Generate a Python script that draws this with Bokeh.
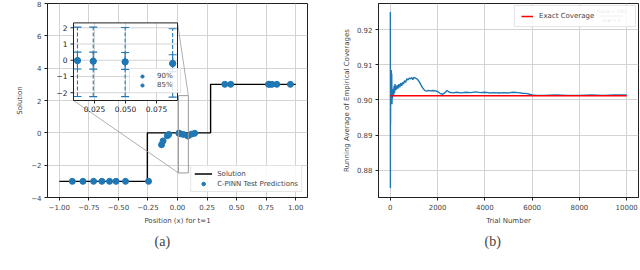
from bokeh.plotting import figure
from bokeh.models import Range1d, FixedTicker, Legend, LegendItem, Title, Label, BoxAnnotation
from bokeh.layouts import row
from bokeh.embed import file_html
from bokeh.resources import INLINE
from bokeh.core.properties import value

# ---------------- panel (a) data ----------------
sol_x = [-1.0, -0.255, 0.28, 1.0]
sol_y = [-3.0, 0.0, 3.0, 3.0]

pred_x = [-0.89, -0.80, -0.71, -0.64, -0.575, -0.52, -0.44, -0.245,
          -0.135, -0.122, -0.086, -0.074,
          0.0113, 0.024, 0.0497, 0.088, 0.118, 0.145,
          0.40, 0.45, 0.77, 0.78, 0.80, 0.84, 0.955]
pred_y = [-3.0, -3.0, -3.0, -3.0, -3.0, -3.0, -3.0, -3.0,
          -0.74, -0.5, -0.18, -0.1,
          -0.02, -0.06, -0.1, -0.2, -0.08, -0.03,
          3.0, 3.0, 3.0, 3.0, 3.0, 3.0, 3.0]

x_ticks = [-1.0, -0.75, -0.5, -0.25, 0.0, 0.25, 0.5, 0.75, 1.0]
x_tick_labels = ["\u22121.00", "\u22120.75", "\u22120.50", "\u22120.25", "0.00", "0.25", "0.50", "0.75", "1.00"]
y_ticks = [-4, -2, 0, 2, 4, 6, 8]
y_tick_labels = ["\u22124", "\u22122", "0", "2", "4", "6", "8"]

# inset (zoom) data
inset_x = [0.0113, 0.024, 0.0497, 0.088]
inset_y = [-0.02, -0.06, -0.1, -0.2]
hi90 = [2.04, 2.04, 2.02, 1.94]
lo90 = [-2.23, -2.24, -2.24, -2.27]
hi85 = [0.5, 0.5, 0.48, 0.34]
lo85 = [-0.54, -0.55, -0.56, -0.7]
inset_xlim = [0.0081, 0.0919]
inset_ylim = [-2.48, 2.30]
inset_xticks = [0.025, 0.05, 0.075]
inset_xtick_labels = ["0.025", "0.050", "0.075"]
inset_yticks = [-2, -1, 0, 1, 2]
inset_ytick_labels = ["\u22122", "\u22121", "0", "1", "2"]

# ---------------- panel (b) data ----------------
trials = [1, 3, 6, 10, 15, 20, 30, 40, 50, 60, 70, 80, 90, 100, 115, 130, 145, 160, 180, 200,
          225, 250, 275, 300, 330, 360, 400, 440, 480, 520, 560, 600, 650, 700, 750, 800, 850,
          900, 950, 1000, 1060, 1120, 1180, 1240, 1300, 1360, 1420, 1480, 1540, 1600, 1700,
          1800, 1900, 2000, 2100, 2200, 2300, 2400, 2500, 2650, 2800, 3000, 3200, 3400, 3600,
          3800, 4000, 4200, 4400, 4600, 4800, 5000, 5200, 5400, 5600, 5800, 6000, 6200, 6500,
          7000, 7500, 8000, 8500, 9000, 9500, 10000]
running_avg = [0.925, 0.875, 0.906, 0.893, 0.904, 0.899, 0.9035, 0.9085, 0.9005, 0.9075,
               0.8988, 0.9030, 0.9005, 0.9025, 0.9010, 0.9032, 0.9015, 0.9040, 0.9020, 0.9045,
               0.9028, 0.9040, 0.9030, 0.9042, 0.9033, 0.9045, 0.9036, 0.9048, 0.9040, 0.9050,
               0.9045, 0.9055, 0.9050, 0.9060, 0.9057, 0.9062, 0.9060, 0.9064, 0.9058, 0.9064,
               0.9062, 0.9060, 0.9056, 0.9050, 0.9042, 0.9035, 0.9030, 0.9026, 0.9025, 0.9027,
               0.9026, 0.9027, 0.9026, 0.9024, 0.9019, 0.9016, 0.9020, 0.9027, 0.9022, 0.9020,
               0.9022, 0.9020, 0.9022, 0.9021, 0.9023, 0.9021, 0.9022, 0.9020, 0.9021, 0.9020,
               0.9021, 0.9020, 0.9022, 0.9021, 0.9019, 0.9018, 0.9014, 0.9013, 0.9013, 0.9014,
               0.9013, 0.9013, 0.9014, 0.9013, 0.9014, 0.9014]
exact_x = [0, 10000]
exact_y = [0.9012, 0.9012]
b_x_ticks = [0, 2000, 4000, 6000, 8000, 10000]
b_x_tick_labels = ["0", "2000", "4000", "6000", "8000", "10000"]
b_y_ticks = [0.88, 0.89, 0.90, 0.91, 0.92]
b_y_tick_labels = ["0.88", "0.89", "0.90", "0.91", "0.92"]

BLUE = "#1f77b4"
DARK = "#222222"
GRID = "#d3d3d3"
FONT = "DejaVu Sans"


def style(p, fs):
    for ax in [p.xaxis[0], p.yaxis[0]]:
        ax.major_label_text_font = FONT
        ax.major_label_text_font_size = fs
        ax.axis_label_text_font = FONT
        ax.axis_label_text_font_size = fs
        ax.axis_label_text_font_style = "normal"
        ax.major_tick_out = 3
        ax.major_tick_in = 0
        ax.minor_tick_out = 0
        ax.minor_tick_in = 0
        ax.axis_line_color = DARK
        ax.major_tick_line_color = DARK
        ax.major_label_standoff = 3
        ax.axis_label_standoff = 4
    p.grid.grid_line_color = GRID
    p.grid.grid_line_width = 1
    p.outline_line_color = DARK
    p.outline_line_alpha = 1
    p.background_fill_color = "white"
    p.border_fill_color = "white"


# ================= panel (a) =================
pA = figure(width=320, height=270, x_range=Range1d(-1.1, 1.1), y_range=Range1d(-4, 8),
            output_backend="svg", toolbar_location=None,
            min_border_left=47, min_border_right=13, min_border_top=3, min_border_bottom=73)
pA.xaxis[0].ticker = FixedTicker(ticks=x_ticks)
pA.xaxis[0].major_label_overrides = {t: l for t, l in zip(x_ticks, x_tick_labels)}
pA.yaxis[0].ticker = FixedTicker(ticks=y_ticks)
pA.yaxis[0].major_label_overrides = {t: l for t, l in zip(y_ticks, y_tick_labels)}
pA.xaxis[0].axis_label = "Position (x) for t=1"
pA.yaxis[0].axis_label = "Solution"
style(pA, "7px")

r_sol = pA.step(sol_x, sol_y, mode="after", line_color="black", line_width=1.4)
r_pred = pA.scatter(pred_x, pred_y, size=6, color=BLUE, line_color=BLUE)

# inset placement (axes fraction: left, bottom, width, height)
ins_l, ins_b, ins_w, ins_h = 0.1, 0.5, 0.4, 0.4
ix0, ix1 = inset_xlim
iy0, iy1 = inset_ylim
dxr = (ix1 - ix0) / ins_w
dyr = (iy1 - iy0) / ins_h
ixs = ix0 - ins_l * dxr
iys = iy0 - ins_b * dyr
pA.extra_x_ranges = {"ix": Range1d(ixs, ixs + dxr)}
pA.extra_y_ranges = {"iy": Range1d(iys, iys + dyr)}
IR = dict(x_range_name="ix", y_range_name="iy")

# zoom indicator rectangle and connectors (main coordinates)
mx0, mx1 = -1.1, 1.1
my0, my1 = -4.0, 8.0
box_l = mx0 + ins_l * (mx1 - mx0)
box_r = mx0 + (ins_l + ins_w) * (mx1 - mx0)
box_b = my0 + ins_b * (my1 - my0)
box_t = my0 + (ins_b + ins_h) * (my1 - my0)
pA.quad(left=[ix0], right=[ix1], bottom=[iy0], top=[iy1], fill_color=None,
        line_color="#9a9a9a", line_width=1)
pA.segment(x0=[box_r, box_l], y0=[box_t, box_b], x1=[ix1, ix0], y1=[iy1, iy0],
           line_color="#9a9a9a", line_width=0.8)

# inset background
pA.quad(left=[ix0], right=[ix1], bottom=[iy0], top=[iy1], fill_color="white",
        line_color=None, **IR)
# inset grid
pA.segment(x0=inset_xticks, y0=[iy0] * 3, x1=inset_xticks, y1=[iy1] * 3,
           line_color=GRID, line_width=1, **IR)
pA.segment(x0=[ix0] * 5, y0=inset_yticks, x1=[ix1] * 5, y1=inset_yticks,
           line_color=GRID, line_width=1, **IR)
# inset ticks (3px outward)
frame_w, frame_h = 260.0, 193.5
tlx = 3.0 / (ins_w * frame_w) * (ix1 - ix0)
tly = 3.0 / (ins_h * frame_h) * (iy1 - iy0)
pA.segment(x0=inset_xticks, y0=[iy0] * 3, x1=inset_xticks, y1=[iy0 - tly] * 3,
           line_color=DARK, line_width=1, **IR)
pA.segment(x0=[ix0] * 5, y0=inset_yticks, x1=[ix0 - tlx] * 5, y1=inset_yticks,
           line_color=DARK, line_width=1, **IR)
pA.text(x=inset_xticks, y=[iy0] * 3, text=inset_xtick_labels, y_offset=5,
        text_align="center", text_baseline="top", text_font=value(FONT),
        text_font_size="7.5px", text_color=DARK, **IR)
pA.text(x=[ix0] * 5, y=inset_yticks, text=inset_ytick_labels, x_offset=-6,
        text_align="right", text_baseline="middle", text_font=value(FONT),
        text_font_size="7.5px", text_color=DARK, **IR)
# error bars
pA.segment(x0=inset_x, y0=lo90, x1=inset_x, y1=hi90, line_color=BLUE, line_width=1.1,
           line_dash="4 2", **IR)
pA.segment(x0=inset_x, y0=lo85, x1=inset_x, y1=hi85, line_color=BLUE, line_width=1.1, **IR)
pA.scatter(inset_x + inset_x, hi90 + lo90, marker="dash", size=8, line_color=BLUE,
           line_width=1.1, **IR)
pA.scatter(inset_x + inset_x, hi85 + lo85, marker="dash", size=8, line_color=BLUE,
           line_width=1.1, **IR)
r_i90 = pA.scatter(inset_x, inset_y, size=6, color=BLUE, **IR)
r_i85 = pA.scatter(inset_x, inset_y, size=6, color=BLUE, **IR)
pA.quad(left=[ix0], right=[ix1], bottom=[iy0], top=[iy1], fill_color=None,
        line_color=DARK, line_width=1, **IR)

leg_in = Legend(items=[LegendItem(label="90%", renderers=[r_i90]),
                       LegendItem(label="85%", renderers=[r_i85])],
                location=(82, 104))
leg_main = Legend(items=[LegendItem(label="Solution", renderers=[r_sol]),
                         LegendItem(label="C-PINN Test Predictions", renderers=[r_pred])],
                  location="bottom_right")
for lg in (leg_in, leg_main):
    lg.label_text_font = FONT
    lg.label_text_font_size = "7px"
    lg.label_height = 9
    lg.glyph_height = 9
    lg.spacing = 1
    lg.padding = 3
    lg.label_standoff = 5
    lg.border_line_color = "#cccccc"
    lg.background_fill_alpha = 0.85
leg_in.glyph_width = 18
leg_in.label_height = 8
leg_in.glyph_height = 8
leg_in.label_standoff = 6
leg_in.padding = 3
leg_in.margin = 0
leg_main.glyph_width = 18
leg_main.margin = 5
pA.add_layout(leg_in)
pA.add_layout(leg_main)

pA.add_layout(Title(text="(a)", align="left", offset=107, text_font="Liberation Serif",
                    text_font_size="14px", text_font_style="normal", standoff=9), "below")

# ================= panel (b) =================
pB = figure(width=320, height=270, x_range=Range1d(-500, 10500), y_range=Range1d(0.8723, 0.9274),
            output_backend="svg", toolbar_location=None,
            min_border_left=58, min_border_right=2, min_border_top=3, min_border_bottom=73)
pB.xaxis[0].ticker = FixedTicker(ticks=b_x_ticks)
pB.xaxis[0].major_label_overrides = {t: l for t, l in zip(b_x_ticks, b_x_tick_labels)}
pB.yaxis[0].ticker = FixedTicker(ticks=b_y_ticks)
pB.yaxis[0].major_label_overrides = {t: l for t, l in zip(b_y_ticks, b_y_tick_labels)}
pB.xaxis[0].axis_label = "Trial Number"
pB.yaxis[0].axis_label = "Running Average of Empirical Coverages"
style(pB, "7px")
pB.yaxis[0].axis_label_standoff = 3

pB.line(trials, running_avg, line_color=BLUE, line_width=1.4)
r_exact = pB.line(exact_x, exact_y, line_color="red", line_width=1.5)

leg_b = Legend(items=[LegendItem(label="Exact Coverage", renderers=[r_exact])],
               location="top_right", margin=2)
leg_b.label_text_font = FONT
leg_b.label_text_font_size = "7px"
leg_b.label_height = 8
leg_b.glyph_height = 8
leg_b.glyph_width = 12
leg_b.label_standoff = 6
leg_b.padding = 6
leg_b.label_width = 90
leg_b.border_line_color = "#cccccc"
leg_b.background_fill_alpha = 0.85
pB.add_layout(leg_b)

pB.add_layout(Label(x=233, y=186, x_units="screen", y_units="screen", text="\u2308(ncal + 1)\u03b4\u2309",
                    text_font=FONT, text_font_size="4.5px", text_align="center",
                    text_baseline="middle", text_color=DARK))
pB.add_layout(Label(x=233, y=177, x_units="screen", y_units="screen", text="ncal + 1",
                    text_font=FONT, text_font_size="4.5px", text_align="center",
                    text_baseline="middle", text_color=DARK))
pB.add_layout(BoxAnnotation(left=221, right=245, bottom=181.2, top=181.8, left_units="screen",
                            right_units="screen", bottom_units="screen", top_units="screen",
                            fill_color=DARK, fill_alpha=1, line_color=None))

pB.add_layout(Title(text="(b)", align="left", offset=106, text_font="Liberation Serif",
                    text_font_size="14px", text_font_style="normal", standoff=9), "below")

layout = row(pA, pB, spacing=0)

open("out.html", "w").write(file_html(layout, INLINE))
